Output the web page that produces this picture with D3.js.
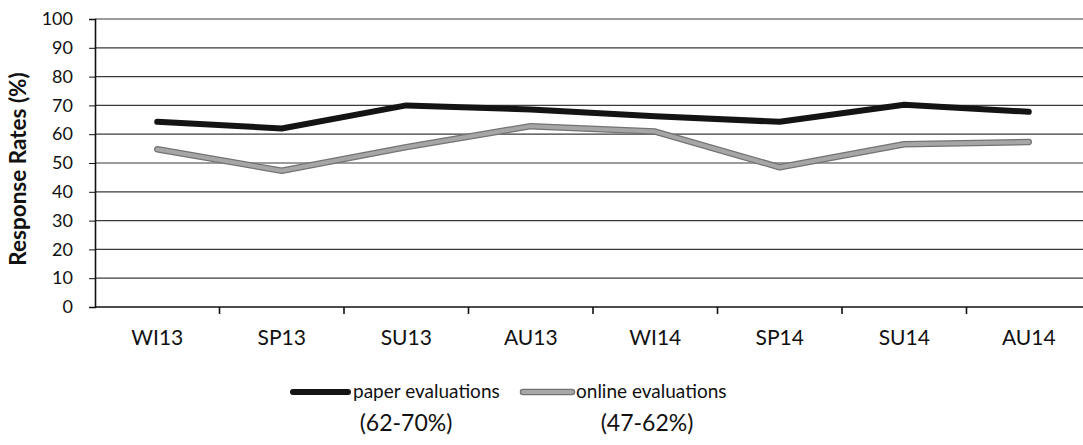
<!DOCTYPE html>
<html>
<head>
<meta charset="utf-8">
<script src="https://cdn.jsdelivr.net/npm/d3@7"></script>
<style>
  body { margin: 0; background: #fff; }
  text { font-family: Lato, "Noto Sans", sans-serif; fill: #111; }
</style>
</head>
<body>
<div id="chart"></div>
<script>
var terms = ["WI13", "SP13", "SU13", "AU13", "WI14", "SP14", "SU14", "AU14"];
var paper = [64.3, 62, 70, 68.6, 66.2, 64.3, 70.2, 67.8];
var online = [54.8, 47.3, 55.5, 62.8, 60.9, 48.5, 56.5, 57.3];
var yTicks = [0, 10, 20, 30, 40, 50, 60, 70, 80, 90, 100];
var seriesNames = ["paper evaluations", "online evaluations"];
var seriesRanges = ["(62-70%)", "(47-62%)"];

var W = 1083, H = 445;
var margin = {top: 19, left: 95},
    width = 996,
    height = 288;

var svg = d3.select("#chart")
    .append("svg")
      .attr("width", W)
      .attr("height", H);

var g = svg.append("g")
    .attr("transform", "translate(" + margin.left + "," + margin.top + ")");

var x = d3.scaleBand().domain(terms).range([0, width]);
var y = d3.scaleLinear().domain([0, 100]).range([height, 0]);

// gridlines
g.append("g")
    .attr("class", "grid")
  .selectAll("line")
  .data(yTicks.filter(function(d) { return d > 0; }))
  .enter().append("line")
    .attr("x1", 0)
    .attr("x2", width)
    .attr("y1", function(d) { return y(d); })
    .attr("y2", function(d) { return y(d); })
    .attr("stroke", "#3a3a3a")
    .attr("stroke-width", 1.2);

// y axis
var yAxis = d3.axisLeft(y).tickValues(yTicks).tickSize(6).tickPadding(16);
var yg = g.append("g").call(yAxis);
yg.select(".domain").attr("stroke", "#111").attr("stroke-width", 1.6);
yg.selectAll(".tick line").attr("stroke", "#111");
yg.selectAll("text").attr("font-size", "18px").attr("font-family", "Lato, sans-serif").attr("fill", "#111");

// x axis
var xg = g.append("g").attr("transform", "translate(0," + height + ")");
xg.append("line")
    .attr("x1", 0).attr("x2", width)
    .attr("stroke", "#111").attr("stroke-width", 1.6);
xg.selectAll(".bt")
  .data(terms.slice(1))
  .enter().append("line")
    .attr("class", "bt")
    .attr("x1", function(d) { return x(d); })
    .attr("x2", function(d) { return x(d); })
    .attr("y1", 0).attr("y2", 7)
    .attr("stroke", "#111").attr("stroke-width", 1.6);
xg.selectAll(".xl")
  .data(terms)
  .enter().append("text")
    .attr("class", "xl")
    .attr("x", function(d) { return x(d) + x.bandwidth() / 2; })
    .attr("y", 38)
    .attr("text-anchor", "middle")
    .attr("font-size", "21px")
    .text(function(d) { return d; });

// y title
svg.append("text")
    .attr("transform", "translate(26,169) rotate(-90)")
    .attr("text-anchor", "middle")
    .attr("font-size", "22.5px")
    .attr("font-weight", "bold")
    .text("Response Rates (%)");

var line = d3.line()
    .x(function(d, i) { return x(terms[i]) + x.bandwidth() / 2; })
    .y(function(d) { return y(d); });

// online: gray with darker rim
g.append("path").datum(online)
    .attr("d", line).attr("fill", "none")
    .attr("stroke", "#737373").attr("stroke-width", 6.5)
    .attr("stroke-linejoin", "round").attr("stroke-linecap", "round");
g.append("path").datum(online)
    .attr("d", line).attr("fill", "none")
    .attr("stroke", "#a6a6a6").attr("stroke-width", 4)
    .attr("stroke-linejoin", "round").attr("stroke-linecap", "round");

// paper: black
g.append("path").datum(paper)
    .attr("d", line).attr("fill", "none")
    .attr("stroke", "#141414").attr("stroke-width", 6)
    .attr("stroke-linejoin", "round").attr("stroke-linecap", "round");

// legend
var legend = [
  {name: seriesNames[0], range: seriesRanges[0], x0: 293, x1: 348, tx: 353, cx: 406, stroke: "#141414", inner: null},
  {name: seriesNames[1], range: seriesRanges[1], x0: 523, x1: 572, tx: 576, cx: 647, stroke: "#737373", inner: "#a6a6a6"}
];
var lg = svg.append("g");
legend.forEach(function(l) {
  lg.append("line")
      .attr("x1", l.x0).attr("x2", l.x1)
      .attr("y1", 392).attr("y2", 392)
      .attr("stroke", l.stroke).attr("stroke-width", l.inner ? 6.5 : 6)
      .attr("stroke-linecap", "round");
  if (l.inner) {
    lg.append("line")
        .attr("x1", l.x0).attr("x2", l.x1)
        .attr("y1", 392).attr("y2", 392)
        .attr("stroke", l.inner).attr("stroke-width", 4)
        .attr("stroke-linecap", "round");
  }
  lg.append("text")
      .attr("x", l.tx).attr("y", 398)
      .attr("font-size", "19px")
      .text(l.name);
  lg.append("text")
      .attr("x", l.cx).attr("y", 431)
      .attr("text-anchor", "middle")
      .attr("font-size", "23px")
      .text(l.range);
});
</script>
</body>
</html>
